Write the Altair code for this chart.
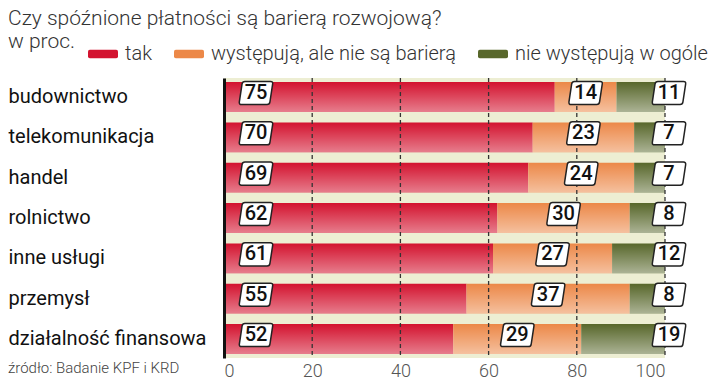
import altair as alt
import pandas as pd

sectors = ["budownictwo", "telekomunikacja", "handel", "rolnictwo",
           "inne usługi", "przemysł", "działalność finansowa"]
categories = ["tak", "występują, ale nie są barierą", "nie występują w ogóle"]
tak = [75, 70, 69, 62, 61, 55, 52]
wystepuja = [14, 23, 24, 30, 27, 37, 29]
nie = [11, 7, 7, 8, 12, 8, 19]
x_ticks = [0, 20, 40, 60, 80, 100]
grid_ticks = [20, 40, 60, 80, 100]
colors = ["#d3132f", "#ec8848", "#58672b"]
title_text = "Czy spóźnione płatności są barierą rozwojową?"
unit_text = "w proc."
source_text = "źródło: Badanie KPF i KRD"

rows = []
for i, s in enumerate(sectors):
    start = 0
    for j, (c, v) in enumerate(zip(categories, [tak[i], wystepuja[i], nie[i]])):
        rows.append(dict(sector=s, category=c, order=j, value=v,
                         start=start, end=start + v, mid=start + v / 2))
        start += v
df = pd.DataFrame(rows)

W, H = 441, 280
FONT = "Roboto"

y_enc = alt.Y("sector:N", sort=sectors, title=None,
              scale=alt.Scale(paddingInner=0.26, paddingOuter=0.1),
              axis=alt.Axis(labelFontSize=20, labelFont=FONT, labelColor="#111111",
                            labelFontWeight=400, labelAlign="left",
                            labelPadding=216, ticks=False, domain=True,
                            domainColor="#111111", domainWidth=3,
                            minExtent=216, maxExtent=216, labelLimit=260, zindex=1))
y_plain = alt.Y("sector:N", sort=sectors, title=None)

x_scale = alt.Scale(domain=[0, 100], nice=False)

legend_shape = ("M-0.88,-0.28 Q-1,-0.28 -1,-0.16 L-1,0.16 Q-1,0.28 -0.88,0.28 "
                "L0.88,0.28 Q1,0.28 1,0.16 L1,-0.16 Q1,-0.28 0.88,-0.28 Z")
box_shape = ("M-0.65,-0.68 L0.85,-0.68 Q1,-0.68 0.98,-0.53 L0.82,0.53 "
             "Q0.8,0.68 0.65,0.68 L-0.85,0.68 Q-1,0.68 -0.98,0.53 L-0.82,-0.53 "
             "Q-0.8,-0.68 -0.65,-0.68 Z")

bars = alt.Chart(df).mark_bar().encode(
    x=alt.X("start:Q", scale=x_scale, title=None,
            axis=alt.Axis(values=x_ticks, labelFontSize=18, labelFont=FONT,
                          labelFontWeight=300, labelColor="#555555",
                          domain=False, ticks=False, grid=False, labelPadding=4)),
    x2="end:Q",
    y=y_enc,
    color=alt.Color("category:N", scale=alt.Scale(domain=categories, range=colors),
                    legend=alt.Legend(orient="none", legendX=-136, legendY=-39,
                                      direction="horizontal", title=None,
                                      symbolType=legend_shape, symbolSize=900,
                                      symbolStrokeWidth=0, symbolOpacity=1,
                                      labelFontSize=20, labelFont=FONT,
                                      labelFontWeight=300, labelColor="#333333",
                                      labelLimit=400,
                                      columnPadding=22, labelOffset=7, padding=0)),
)

overlay = alt.Chart(df).mark_bar(
    fill=alt.LinearGradient(gradient="linear", x1=0, x2=0, y1=0, y2=1,
                            stops=[alt.GradientStop(color="rgba(255,255,255,0)", offset=0),
                                   alt.GradientStop(color="rgba(255,255,255,1)", offset=1)])
).encode(
    x=alt.X("start:Q", title=None),
    x2="end:Q",
    y=y_plain,
    opacity=alt.Opacity("order:O", scale=alt.Scale(domain=[0, 1, 2], range=[0.45, 0.5, 0.25]),
                        legend=None),
)

grid = alt.Chart(pd.DataFrame({"g": grid_ticks})).mark_rule(
    color="#333333", strokeDash=[4, 3], strokeWidth=1.3
).encode(x=alt.X("g:Q", title=None))

label_layers = []
for j, field, off in [(0, "start", 32), (1, "mid", 0), (2, "end", 4)]:
    base = alt.Chart(df).transform_filter(alt.datum.order == j)
    pts = base.mark_point(shape=box_shape, size=1156, filled=True, fill="white",
                          stroke="#222222", strokeWidth=1.5, opacity=1,
                          xOffset=off, yOffset=-4).encode(
        x=alt.X(f"{field}:Q", title=None), y=y_plain)
    txt = base.mark_text(fontSize=20, font=FONT, fontWeight=500, color="#111111",
                         xOffset=off, yOffset=-4).encode(
        x=alt.X(f"{field}:Q", title=None), y=y_plain, text="value:Q")
    label_layers += [pts, txt]

title = alt.Chart(pd.DataFrame({"t": [title_text]})).mark_text(
    align="left", baseline="alphabetic", fontSize=21, font=FONT, fontWeight=300, color="#333333"
).encode(x=alt.value(-216), y=alt.value(-53), text="t:N")

unit = alt.Chart(pd.DataFrame({"t": [unit_text]})).mark_text(
    align="left", baseline="alphabetic", fontSize=21, font=FONT, fontWeight=300, color="#333333"
).encode(x=alt.value(-216), y=alt.value(-30), text="t:N")

source = alt.Chart(pd.DataFrame({"t": [source_text]})).mark_text(
    align="left", baseline="middle", fontSize=15, font=FONT, fontWeight=300, color="#444444"
).encode(x=alt.value(-216), y=alt.value(H + 10), text="t:N")

chart = alt.layer(bars, overlay, grid, *label_layers, title, unit, source).properties(
    width=W, height=H, padding=0
).configure_view(fill="#edeed3", stroke=None)

chart.save("out.html", embed_options={"renderer": "svg", "actions": False})
